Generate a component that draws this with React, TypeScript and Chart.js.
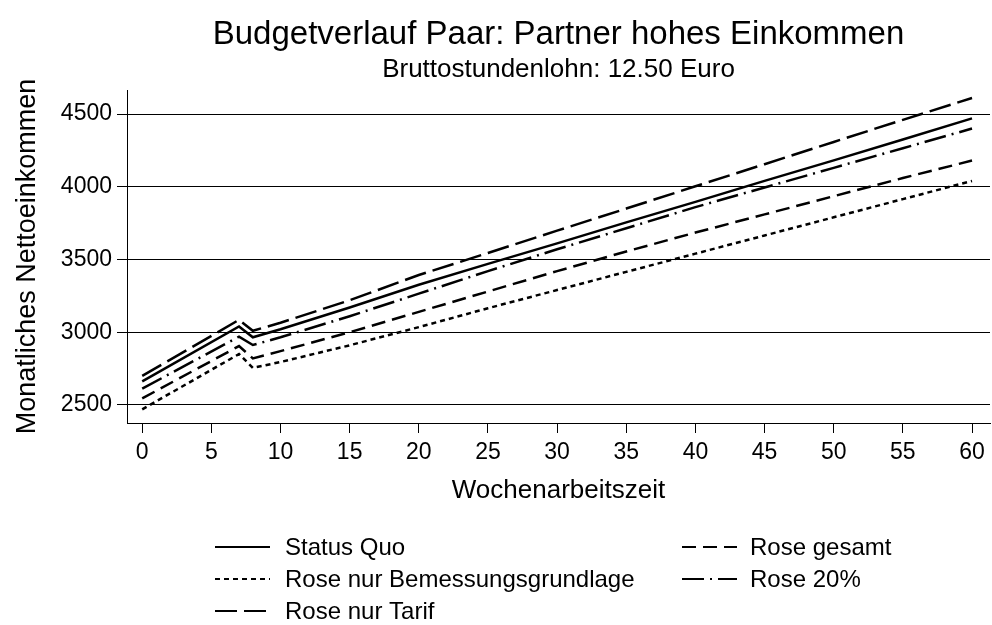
import React, { useEffect, useRef } from "react";
import { Chart, registerables } from "chart.js";

Chart.register(...registerables);

const FONT = '"Liberation Sans", Arial, sans-serif';

const chartTitle = "Budgetverlauf Paar: Partner hohes Einkommen";
const chartSubtitle = "Bruttostundenlohn: 12.50 Euro";
const xAxisTitle = "Wochenarbeitszeit";
const yAxisTitle = "Monatliches Nettoeinkommen";

const hours = [0, 7, 8, 10, 15, 20, 25, 30, 35, 40, 45, 50, 55, 60];
const statusQuo = [2662, 3040, 2965, 3020, 3170, 3326, 3470, 3611, 3755, 3896, 4040, 4181, 4325, 4470];
const roseBemessung = [2470, 2850, 2755, 2795, 2910, 3035, 3165, 3290, 3415, 3540, 3665, 3790, 3915, 4040];
const roseTarif = [2700, 3085, 3010, 3065, 3220, 3393, 3545, 3698, 3850, 4003, 4155, 4308, 4460, 4610];
const roseGesamt = [2545, 2905, 2820, 2870, 3000, 3140, 3280, 3420, 3555, 3685, 3810, 3935, 4060, 4180];
const rose20 = [2612, 2970, 2912, 2965, 3110, 3265, 3420, 3570, 3715, 3860, 3995, 4130, 4265, 4400];

const seriesNames = [
  "Status Quo",
  "Rose nur Bemessungsgrundlage",
  "Rose nur Tarif",
  "Rose gesamt",
  "Rose 20%",
];

const xTicks = [0, 5, 10, 15, 20, 25, 30, 35, 40, 45, 50, 55, 60];
const yTicks = [2500, 3000, 3500, 4000, 4500];

const toPoints = (vals: number[]) => vals.map((v, i) => ({ x: hours[i], y: v }));

const overlayPlugin = {
  id: "overlay",
  afterDraw(chart: any) {
    const ctx = chart.ctx as CanvasRenderingContext2D;
    const ca = chart.chartArea;
    ctx.save();
    ctx.fillStyle = "#000";
    ctx.textAlign = "center";
    ctx.textBaseline = "alphabetic";
    const cx = (ca.left + ca.right) / 2;
    ctx.font = `33px ${FONT}`;
    ctx.fillText(chartTitle, cx, 44);
    ctx.font = `26px ${FONT}`;
    ctx.fillText(chartSubtitle, cx, 77);

    const cols = [
      { x0: 215, x1: 270, tx: 285 },
      { x0: 682, x1: 737, tx: 750 },
    ];
    const rows = [547, 579, 611];
    chart.data.datasets.forEach((ds: any, i: number) => {
      const c = cols[Math.floor(i / 3)];
      const y = rows[i % 3];
      ctx.beginPath();
      ctx.setLineDash(ds.borderDash || []);
      ctx.lineWidth = 2;
      ctx.strokeStyle = "#000";
      ctx.lineCap = "butt";
      ctx.moveTo(c.x0, y);
      ctx.lineTo(c.x1, y);
      ctx.stroke();
      ctx.setLineDash([]);
      ctx.textAlign = "left";
      ctx.textBaseline = "middle";
      ctx.font = `24px ${FONT}`;
      ctx.fillText(ds.label, c.tx, y + 1);
    });
    ctx.restore();
  },
};

export default function App() {
  const canvasRef = useRef<HTMLCanvasElement | null>(null);

  useEffect(() => {
    document.body.style.margin = "0";
    const canvas = canvasRef.current;
    if (!canvas) return;
    const dashes = [[], [5, 4], [22, 7], [14, 7], [22, 6, 2, 6]];
    const series = [statusQuo, roseBemessung, roseTarif, roseGesamt, rose20];
    const chart = new Chart(canvas, {
      type: "line",
      data: {
        datasets: series.map((s, i) => ({
          label: seriesNames[i],
          data: toPoints(s),
          borderColor: "#000",
          backgroundColor: "#000",
          borderWidth: 2.5,
          borderDash: dashes[i],
          borderCapStyle: "butt",
          pointRadius: 0,
          tension: 0,
          fill: false,
        })),
      },
      options: {
        responsive: false,
        animation: false,
        devicePixelRatio: 1,
        layout: { padding: { top: 90, right: 2, bottom: 117, left: 0 } },
        plugins: {
          legend: { display: false },
          title: { display: false },
          tooltip: { enabled: false },
        },
        scales: {
          x: {
            type: "linear",
            min: -1.1,
            max: 61.3,
            afterBuildTicks: (axis: any) => {
              axis.ticks = xTicks.map((v) => ({ value: v }));
            },
            afterFit: (scale: any) => {
              scale.height = 85;
            },
            grid: {
              drawOnChartArea: false,
              drawTicks: true,
              tickLength: 10,
              color: "#000",
              lineWidth: 1,
            },
            border: { display: true, color: "#000", width: 1 },
            ticks: {
              color: "#000",
              font: { family: FONT, size: 23 },
              padding: 6,
              maxRotation: 0,
              autoSkip: false,
              callback: (v: any) => String(v),
            },
            title: {
              display: true,
              text: xAxisTitle,
              color: "#000",
              font: { family: FONT, size: 26 },
              padding: { top: 0, bottom: 2 },
            },
          },
          y: {
            type: "linear",
            min: 2376,
            max: 4665,
            afterBuildTicks: (axis: any) => {
              axis.ticks = yTicks.map((v) => ({ value: v }));
            },
            afterFit: (scale: any) => {
              scale.width = 127;
            },
            grid: {
              drawOnChartArea: true,
              drawTicks: true,
              tickLength: 10,
              color: "#000",
              lineWidth: 1,
            },
            border: { display: true, color: "#000", width: 1 },
            ticks: {
              color: "#000",
              font: { family: FONT, size: 23 },
              padding: 5,
              autoSkip: false,
              callback: (v: any) => String(v),
            },
            title: {
              display: true,
              text: yAxisTitle,
              color: "#000",
              font: { family: FONT, size: 27 },
              padding: { top: 11, bottom: 0 },
            },
          },
        },
      },
      plugins: [overlayPlugin],
    } as any);
    return () => chart.destroy();
  }, []);

  return (
    <div style={{ width: 992, height: 625, background: "#fff" }}>
      <canvas ref={canvasRef} width={992} height={625} style={{ display: "block" }} />
    </div>
  );
}
